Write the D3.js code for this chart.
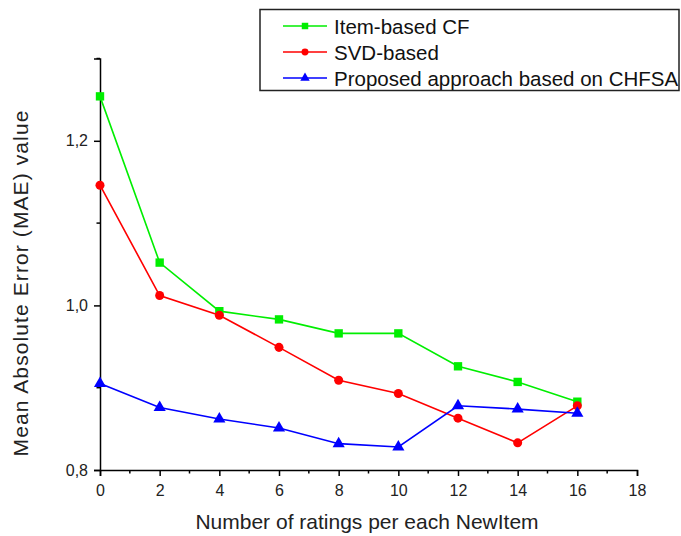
<!DOCTYPE html>
<html><head><meta charset="utf-8">
<script src="https://cdn.jsdelivr.net/npm/d3@7"></script>
<style>body{margin:0;background:#fff}svg{display:block}text{font-family:"Liberation Sans",Arial,sans-serif}</style>
</head><body>
<script>
const xValues = [0, 2, 4, 6, 8, 10, 12, 14, 16];
const itemBasedCF = [1.254, 1.052, 0.993, 0.983, 0.966, 0.966, 0.926, 0.907, 0.883];
const svdBased = [1.146, 1.012, 0.988, 0.949, 0.909, 0.893, 0.863, 0.833, 0.878];
const proposedCHFSA = [0.905, 0.876, 0.862, 0.851, 0.832, 0.828, 0.878, 0.874, 0.869];
const seriesNames = ["Item-based CF", "SVD-based", "Proposed approach based on CHFSA"];
const xTicks = [0, 2, 4, 6, 8, 10, 12, 14, 16, 18];
const yTicks = [0.8, 1.0, 1.2];

const W = 681, H = 536;
const svg = d3.select("body").append("svg").attr("width", W).attr("height", H);
const x = d3.scaleLinear().domain([0, 18]).range([100, 637]);
const y = d3.scaleLinear().domain([0.8, 1.3]).range([470, 58.5]);

const series = [
  {name: seriesNames[0], values: itemBasedCF, color: "#00ee00", shape: d3.symbolSquare, size: 70},
  {name: seriesNames[1], values: svdBased, color: "#ff0000", shape: d3.symbolCircle, size: 64},
  {name: seriesNames[2], values: proposedCHFSA, color: "#0000ff", shape: d3.symbolTriangle, size: 64}
];

// axes
const xAxis = d3.axisBottom(x).tickValues(xTicks).tickSize(6).tickPadding(8.5).tickFormat(d3.format("d"));
const gx = svg.append("g").attr("transform", "translate(0,470)").call(xAxis);
const yAxis = d3.axisLeft(y).tickValues(yTicks).tickSize(6).tickPadding(6).tickFormat(d => d3.format(".1f")(d).replace(".", ","));
const gy = svg.append("g").attr("transform", "translate(100,0)").call(yAxis);
[gx, gy].forEach(g => {
  g.select(".domain").attr("stroke", "#000").attr("stroke-width", 1.5);
  g.selectAll(".tick line").attr("stroke", "#000").attr("stroke-width", 1.5);
  g.selectAll(".tick text").attr("font-size", 16).attr("fill", "#222").attr("font-family", "Liberation Sans, Arial, sans-serif");
});
// minor ticks
const xMinor = d3.range(1, 18, 2);
svg.append("g").selectAll("line").data(xMinor).join("line")
  .attr("x1", d => x(d)).attr("x2", d => x(d)).attr("y1", 470).attr("y2", 473.5)
  .attr("stroke", "#000").attr("stroke-width", 1.5);
const yMinor = [0.9, 1.1, 1.3];
svg.append("g").selectAll("line").data(yMinor).join("line")
  .attr("x1", 100).attr("x2", 96.5).attr("y1", d => y(d)).attr("y2", d => y(d))
  .attr("stroke", "#000").attr("stroke-width", 1.5);

// lines
const line = d3.line().x((d, i) => x(xValues[i])).y(d => y(d));
series.forEach(s => {
  svg.append("path").datum(s.values).attr("d", line)
    .attr("fill", "none").attr("stroke", s.color).attr("stroke-width", 1.6);
  svg.append("g").selectAll("path").data(s.values).join("path")
    .attr("transform", (d, i) => `translate(${x(xValues[i])},${y(d)})`)
    .attr("d", d3.symbol().type(s.shape).size(s.size)).attr("fill", s.color);
});

// axis titles
svg.append("text").attr("x", 367).attr("y", 529).attr("text-anchor", "middle")
  .attr("font-size", 21).attr("fill", "#222").text("Number of ratings per each NewItem");
svg.append("text").attr("transform", "translate(27.5,283) rotate(-90)").attr("text-anchor", "middle")
  .attr("font-size", 21).attr("letter-spacing", 1.1).attr("fill", "#222").text("Mean Absolute Error (MAE) value");

// legend
const lg = svg.append("g");
lg.append("rect").attr("x", 260).attr("y", 9.5).attr("width", 419).attr("height", 81)
  .attr("fill", "#fff").attr("stroke", "#222").attr("stroke-width", 1.5);
series.forEach((s, i) => {
  const cy = 26 + i * 26;
  lg.append("line").attr("x1", 283).attr("x2", 327).attr("y1", cy).attr("y2", cy)
    .attr("stroke", s.color).attr("stroke-width", 1.6);
  lg.append("path").attr("transform", `translate(305,${cy})`)
    .attr("d", d3.symbol().type(s.shape).size(s.size * 0.6)).attr("fill", s.color);
  lg.append("text").attr("x", 334).attr("y", cy + 7.5).attr("font-size", 20.5).attr("fill", "#111").text(s.name);
});
</script>
</body></html>
